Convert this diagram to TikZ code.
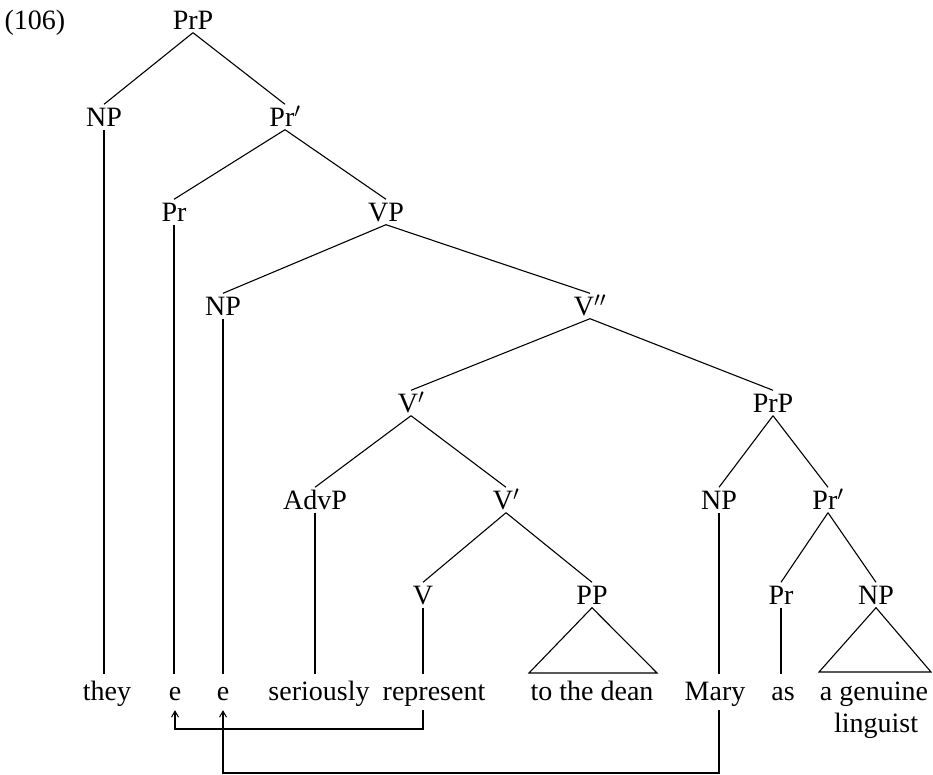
\documentclass[tikz,border=0pt]{standalone}
\usepackage{fontspec}
\setmainfont{Liberation Serif}
\usetikzlibrary{arrows.meta}
\begin{document}
\begin{tikzpicture}[x=1pt,y=-1pt,
  every node/.style={font=\fontsize{28}{32}\selectfont},
  cat/.style={inner sep=3pt,text height=19pt,text depth=0pt},
  word/.style={anchor=base,inner sep=4pt,text height=22pt,text depth=6pt},
  branch/.style={line width=1.1pt},
  move/.style={line width=1.1pt,-{Straight Barb[length=6pt,width=7pt,line width=1pt]}}]
\useasboundingbox (0,0) rectangle (933,775);

\node[cat] (ex) at (35,20) {(106)};

% category labels
\node[cat] (prp1) at (193,20) {PrP};
\node[cat] (np1)  at (104,117) {NP};
\node[cat] (prb1) at (285,117) {Pr$'$};
\node[cat] (pr1)  at (174,212) {Pr};
\node[cat] (vp)   at (386,212) {VP};
\node[cat] (np2)  at (223,306) {NP};
\node[cat] (vbb)  at (590,306) {V$''$};
\node[cat] (vb1)  at (411,403) {V$'$};
\node[cat] (prp2) at (773,403) {PrP};
\node[cat] (advp) at (315,500) {AdvP};
\node[cat] (vb2)  at (506,500) {V$'$};
\node[cat] (np3)  at (719,500) {NP};
\node[cat] (prb2) at (828,500) {Pr$'$};
\node[cat] (v)    at (423,595) {V};
\node[cat] (pp)   at (592,595) {PP};
\node[cat] (pr2)  at (781,595) {Pr};
\node[cat] (np4)  at (876,595) {NP};

% terminal string
\node[word] (they) at (107,700) {they};
\node[word] (e1)   at (175,700) {e};
\node[word] (e2)   at (223,700) {e};
\node[word] (ser)  at (319,700) {seriously};
\node[word] (rep)  at (434,700) {represent};
\node[word] (dean) at (592,700) {to the dean};
\node[word] (mary) at (715,700) {Mary};
\node[word] (as)   at (783,700) {as};
\node[word] (agen) at (874,700) {a genuine};
\node[word] (ling) at (876,732) {linguist};

% branches
\draw[branch] (prp1.south) -- (np1.north);
\draw[branch] (prp1.south) -- (prb1.north);
\draw[branch] (prb1.south) -- (pr1.north);
\draw[branch] (prb1.south) -- (vp.north);
\draw[branch] (vp.south) -- (np2.north);
\draw[branch] (vp.south) -- (vbb.north);
\draw[branch] (vbb.south) -- (vb1.north);
\draw[branch] (vbb.south) -- (prp2.north);
\draw[branch] (vb1.south) -- (advp.north);
\draw[branch] (vb1.south) -- (vb2.north);
\draw[branch] (vb2.south) -- (v.north);
\draw[branch] (vb2.south) -- (pp.north);
\draw[branch] (prp2.south) -- (np3.north);
\draw[branch] (prp2.south) -- (prb2.north);
\draw[branch] (prb2.south) -- (pr2.north);
\draw[branch] (prb2.south) -- (np4.north);

% unary lines down to the words
\draw[branch] (np1.south) -- (np1.south |- they.north);
\draw[branch] (pr1.south) -- (pr1.south |- e1.north);
\draw[branch] (np2.south) -- (np2.south |- e2.north);
\draw[branch] (advp.south) -- (advp.south |- ser.north);
\draw[branch] (v.south) -- (v.south |- rep.north);
\draw[branch] (np3.south) -- (np3.south |- mary.north);
\draw[branch] (pr2.south) -- (pr2.south |- as.north);

% triangles
\coordinate (ppl) at (529,673);
\coordinate (ppr) at (657,673);
\draw[branch,line join=miter] (pp.south) -- (ppl) -- (ppr) -- cycle;
\coordinate (npl) at (819,672);
\coordinate (npr) at (931,672);
\draw[branch,line join=miter] (np4.south) -- (npl) -- (npr) -- cycle;

% movement arrows
\coordinate (lowa) at (0,729);
\coordinate (lowb) at (0,773);
\draw[move] (v.south |- rep.south) -- (v.south |- lowa) -| (e1.south);
\draw[move] (np3.south |- mary.south) -- (np3.south |- lowb) -| (e2.south);
\end{tikzpicture}
\end{document}
